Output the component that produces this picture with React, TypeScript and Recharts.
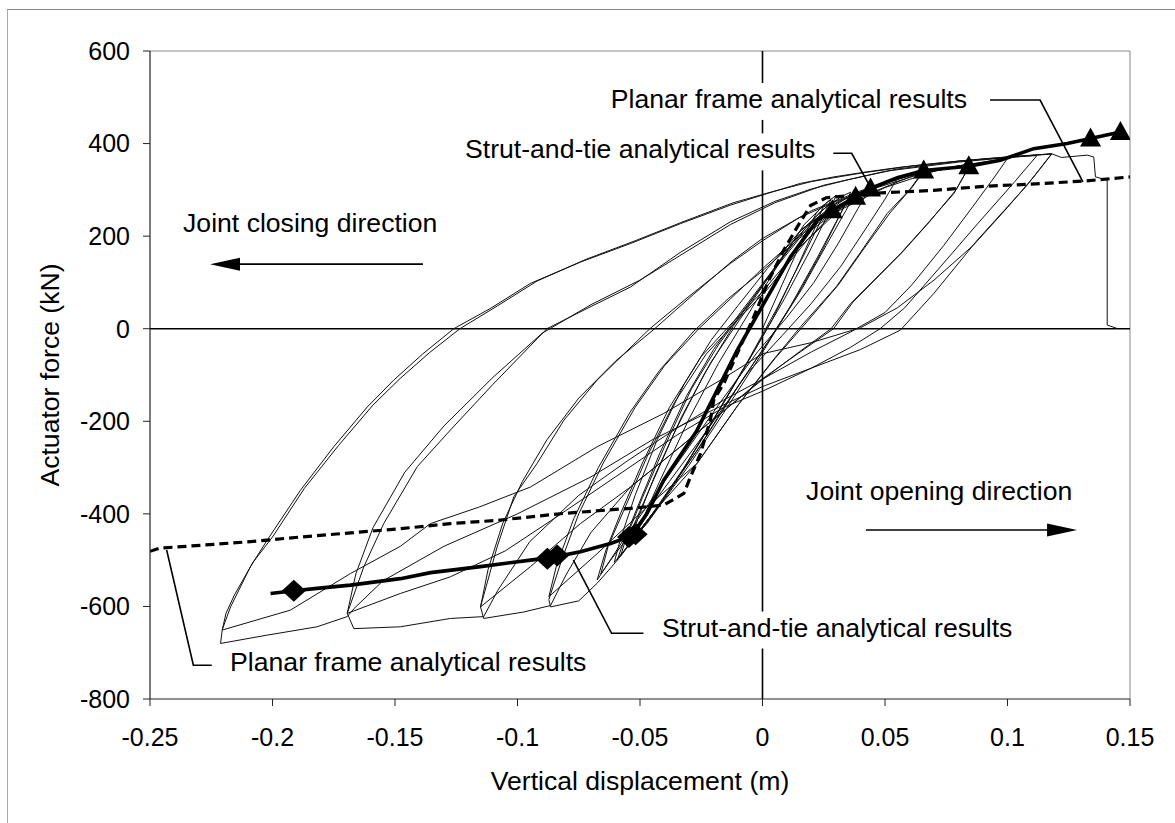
import React from 'react';
import {
  ComposedChart,
  Line,
  Scatter,
  XAxis,
  YAxis,
  ReferenceLine,
  ReferenceDot,
  Label,
} from 'recharts';

type P = [number, number];
const toPts = (a: P[]) => a.map(([x, y]) => ({ x, y }));

const FONT = '"Liberation Sans", Arial, Helvetica, sans-serif';

const xTicks = [-0.25, -0.2, -0.15, -0.1, -0.05, 0, 0.05, 0.1, 0.15];
const yTicks = [-800, -600, -400, -200, 0, 200, 400, 600];

// ---- measured hysteresis (thin lines), displacement (m) vs force (kN) ----
const cycleA1: P[] = [[0,0],[0.008,95],[0.016,190],[0.022,250],[0.025,268],[0.022,225],[0.014,130],[0.004,20],[-0.008,-90],[-0.022,-215],[-0.036,-335],[-0.046,-410],[-0.052,-452],[-0.05,-425],[-0.042,-330],[-0.03,-195],[-0.018,-75],[-0.006,30],[0.006,135],[0.017,225],[0.026,272]];
const cycleA2: P[] = [[0.026,272],[0.03,288],[0.027,250],[0.019,165],[0.009,65],[-0.003,-45],[-0.017,-170],[-0.032,-300],[-0.045,-400],[-0.053,-455],[-0.0555,-470],[-0.053,-430],[-0.046,-345],[-0.036,-225],[-0.024,-100],[-0.012,5],[0,95],[0.012,185],[0.024,255],[0.032,285]];
const cycleA3: P[] = [[0.024,262],[0.028,280],[0.024,235],[0.016,150],[0.006,45],[-0.006,-70],[-0.02,-195],[-0.034,-318],[-0.047,-420],[-0.054,-462],[-0.051,-412],[-0.044,-318],[-0.033,-190],[-0.021,-72],[-0.009,22],[0.003,115],[0.015,208],[0.027,268]];
const cycleB1: P[] = [[0.032,285],[0.036,295],[0.032,250],[0.024,165],[0.014,70],[0.002,-30],[-0.012,-140],[-0.027,-265],[-0.042,-380],[-0.053,-455],[-0.0593,-500],[-0.057,-465],[-0.051,-385],[-0.042,-270],[-0.031,-145],[-0.02,-45],[-0.009,35],[0.004,125],[0.018,220],[0.03,272],[0.038,292]];
const cycleB2: P[] = [[0.038,292],[0.034,255],[0.026,180],[0.016,85],[0.004,-15],[-0.01,-125],[-0.025,-250],[-0.04,-365],[-0.052,-450],[-0.058,-492],[-0.0555,-450],[-0.049,-365],[-0.04,-255],[-0.029,-130],[-0.018,-35],[-0.007,45],[0.006,135],[0.02,228],[0.034,282],[0.042,300]];
const cycleB3: P[] = [[0.036,290],[0.031,240],[0.022,150],[0.011,45],[-0.001,-60],[-0.015,-175],[-0.03,-295],[-0.045,-405],[-0.055,-470],[-0.0605,-505],[-0.058,-455],[-0.052,-360],[-0.043,-240],[-0.032,-120],[-0.021,-25],[-0.01,50],[0.002,130],[0.016,215],[0.03,270],[0.04,296]];
const cycleC1: P[] = [[0.042,300],[0.0441,305],[0.039,260],[0.031,185],[0.021,100],[0.01,25],[-0.002,-50],[-0.016,-150],[-0.03,-255],[-0.044,-360],[-0.056,-450],[-0.064,-515],[-0.0675,-543],[-0.064,-480],[-0.058,-400],[-0.049,-290],[-0.038,-170],[-0.025,-60],[-0.012,15],[0,80],[0.015,175],[0.03,255],[0.045,305],[0.055,325]];
const cycleC2: P[] = [[0.055,325],[0.05,280],[0.042,215],[0.032,135],[0.02,55],[0.008,-15],[-0.006,-95],[-0.022,-215],[-0.038,-330],[-0.052,-430],[-0.062,-500],[-0.066,-530],[-0.063,-470],[-0.056,-385],[-0.047,-275],[-0.036,-160],[-0.023,-55],[-0.01,20],[0.002,85],[0.018,190],[0.035,275],[0.05,318],[0.0658,342]];
const cycleD1: P[] = [[0.0658,342],[0.06,300],[0.0509,249],[0.04,165],[0.03,90],[0.0155,4],[0.004,-70],[-0.01,-165],[-0.0267,-291],[-0.045,-400],[-0.06,-505],[-0.0675,-550],[-0.075,-588],[-0.0865,-601],[-0.0872,-585],[-0.082,-500],[-0.075,-400],[-0.065,-290],[-0.052,-170],[-0.04,-80],[-0.026,0],[-0.012,70],[0,130],[0.015,200],[0.03,255],[0.045,295],[0.0658,340]];
const cycleD2: P[] = [[0.0658,340],[0.061,305],[0.052,250],[0.041,170],[0.031,95],[0.017,8],[0.005,-65],[-0.01,-165],[-0.0267,-291],[-0.0471,-385],[-0.0675,-486],[-0.0872,-579],[-0.084,-510],[-0.077,-410],[-0.067,-300],[-0.054,-180],[-0.042,-90],[-0.028,-5],[-0.014,65],[0,125],[0.015,195],[0.03,252],[0.05,305],[0.07,340],[0.085,356]];
const cycleE1: P[] = [[0.085,356],[0.0781,292],[0.067,225],[0.0563,162],[0.0359,54],[0.028,0],[0.015,-50],[0,-110],[-0.0171,-183],[-0.0335,-255],[-0.0539,-342],[-0.07,-440],[-0.08,-530],[-0.0865,-598],[-0.0974,-612],[-0.1138,-626],[-0.1151,-601],[-0.1083,-471],[-0.1015,-363],[-0.092,-291],[-0.0811,-198],[-0.0675,-111],[-0.046,0],[-0.03,70],[-0.0131,141],[0,190],[0.015,240],[0.03,275],[0.045,302],[0.065,335],[0.085,357]];
const cycleE2: P[] = [[0.085,357],[0.079,300],[0.068,230],[0.057,165],[0.037,58],[0.029,0],[0.016,-48],[0,-108],[-0.0171,-183],[-0.0335,-255],[-0.0539,-342],[-0.0743,-421],[-0.0947,-514],[-0.1151,-601],[-0.112,-520],[-0.106,-420],[-0.098,-330],[-0.088,-240],[-0.075,-150],[-0.06,-70],[-0.044,0],[-0.028,75],[-0.012,148],[0,195],[0.02,255],[0.04,298],[0.06,330],[0.08,352],[0.1,368]];
const cycleF1: P[] = [[0.1,368],[0.095,330],[0.086,265],[0.074,180],[0.061,95],[0.05,35],[0.036,-7],[0.02,-50],[0,-109],[-0.0158,-154],[-0.035,-215],[-0.055,-285],[-0.075,-360],[-0.095,-460],[-0.108,-565],[-0.1138,-622],[-0.1274,-626],[-0.1478,-644],[-0.1668,-648],[-0.1695,-615],[-0.1627,-514],[-0.1546,-421],[-0.1409,-298],[-0.1274,-219],[-0.11,-120],[-0.088,0],[-0.07,48],[-0.0539,90],[-0.0335,165],[-0.0131,231],[0.005,275],[0.02,302],[0.035,322],[0.055,345],[0.08,362],[0.1,370],[0.112,374]];
const cycleF2: P[] = [[0.112,374],[0.103,318],[0.088,228],[0.072,130],[0.058,45],[0.048,0],[0.036,-40],[0.02,-85],[0,-135],[-0.0158,-170],[-0.035,-230],[-0.06,-320],[-0.085,-410],[-0.105,-480],[-0.1274,-536],[-0.1478,-572],[-0.1695,-615],[-0.166,-530],[-0.159,-430],[-0.146,-310],[-0.13,-210],[-0.11,-105],[-0.09,-10],[-0.07,52],[-0.05,105],[-0.03,170],[-0.0131,225],[0.005,272],[0.025,310],[0.05,340],[0.08,360],[0.105,372],[0.118,378]];
const cycleG1: P[] = [[0.118,378],[0.108,310],[0.0876,191],[0.0699,76],[0.0563,-3],[0.04,-45],[0.02,-85],[0,-125],[-0.02,-175],[-0.045,-240],[-0.07,-320],[-0.1,-400],[-0.13,-470],[-0.155,-545],[-0.1668,-605],[-0.1695,-622],[-0.1818,-644],[-0.2022,-662],[-0.2212,-680],[-0.2205,-650],[-0.2171,-601],[-0.209,-514],[-0.2022,-457],[-0.1886,-349],[-0.175,-255],[-0.1613,-169],[-0.1505,-111],[-0.1388,-55],[-0.126,0],[-0.111,44],[-0.0947,98],[-0.0743,144],[-0.0539,184],[-0.0335,227],[-0.0131,267],[0.0019,292],[0.0155,314],[0.0291,328],[0.0427,339],[0.0563,349],[0.0699,357],[0.0836,364],[0.0971,370],[0.1107,375],[0.118,377]];
const cycleG2: P[] = [[0.118,377],[0.111,330],[0.1,262],[0.086,180],[0.07,105],[0.055,45],[0.04,2],[0.02,-30],[0,-54],[-0.0171,-111],[-0.0403,-183],[-0.0675,-255],[-0.0947,-342],[-0.1155,-385],[-0.1355,-421],[-0.1478,-470],[-0.1682,-529],[-0.1927,-608],[-0.2205,-651],[-0.219,-615],[-0.2155,-575],[-0.208,-505],[-0.2,-450],[-0.187,-345],[-0.173,-252],[-0.159,-165],[-0.148,-108],[-0.136,-52],[-0.1235,0],[-0.108,50],[-0.092,103],[-0.072,150],[-0.052,190],[-0.032,232],[-0.012,272],[0.004,296],[0.02,318],[0.04,336],[0.06,351],[0.08,362],[0.1,371],[0.118,378]];
const cycleFail: P[] = [[0.118,378],[0.122,370],[0.1325,375],[0.1352,371],[0.1359,328],[0.1407,321],[0.1407,8],[0.145,0]];

const thinCycles: P[][] = [cycleA1, cycleA2, cycleA3, cycleB1, cycleB2, cycleB3, cycleC1, cycleC2, cycleD1, cycleD2, cycleE1, cycleE2, cycleF1, cycleF2, cycleG1, cycleG2, cycleFail];

// ---- planar frame analytical results (dashed) ----
const planarFrame: P[] = [[-0.25,-481],[-0.2459,-474],[-0.2294,-468],[-0.209,-460],[-0.1886,-450],[-0.168,-441],[-0.1478,-432],[-0.1274,-421],[-0.1083,-414],[-0.0811,-399],[-0.0539,-388],[-0.0403,-381],[-0.0321,-356],[-0.0294,-320],[-0.0253,-270],[-0.0212,-195],[-0.0199,-154],[-0.0158,-118],[-0.01,-50],[-0.004,20],[0.0026,105],[0.0087,170],[0.0142,220],[0.0196,266],[0.026,283],[0.0468,293],[0.0699,299],[0.0917,308],[0.108,312],[0.1312,319],[0.15,328]];

// ---- strut-and-tie analytical results (thick) ----
const strutTie: P[] = [[-0.2008,-572],[-0.1913,-566],[-0.1818,-561],[-0.1682,-554],[-0.1478,-540],[-0.1355,-527],[-0.1151,-514],[-0.0947,-500],[-0.0858,-494],[-0.0743,-482],[-0.062,-464],[-0.0532,-447],[-0.0471,-399],[-0.0403,-327],[-0.027,-222],[-0.0103,-46],[0.0005,54],[0.0114,155],[0.0223,234],[0.0285,256],[0.038,285],[0.0441,303],[0.055,326],[0.0658,342],[0.0842,351],[0.0971,364],[0.1107,389],[0.1244,400],[0.1339,411],[0.1461,425]];
const strutDiamonds: P[] = [[-0.1913,-566],[-0.0878,-497],[-0.0838,-490],[-0.0545,-450],[-0.0518,-444]];
const strutTriangles: P[] = [[0.0285,256],[0.038,285],[0.0441,303],[0.0658,342],[0.0842,351],[0.1339,411],[0.1461,425]];

// ---- annotations (data coordinates) ----
const leaderTopPlanar: P[] = [[0.0929,494],[0.1133,494],[0.1308,317]];
const leaderTopStrut: P[] = [[0.0289,379],[0.0364,379],[0.0432,314]];
const leaderLowStrut: P[] = [[-0.0772,-500],[-0.0616,-658],[-0.0486,-658]];
const leaderLowPlanar: P[] = [[-0.2432,-478],[-0.2323,-727],[-0.2248,-727]];

const notes = [
  { text: 'Joint closing direction', x: -0.2365, y: 209, anchor: 'start', box: false, w: 256 },
  { text: 'Planar frame analytical results', x: 0.0835, y: 477, anchor: 'end', box: true, w: 356 },
  { text: 'Strut-and-tie analytical results', x: -0.1214, y: 368, anchor: 'start', box: true, w: 352 },
  { text: 'Joint opening direction', x: 0.0178, y: -370, anchor: 'start', box: false, w: 268 },
  { text: 'Strut-and-tie analytical results', x: -0.041, y: -665, anchor: 'start', box: true, w: 352 },
  { text: 'Planar frame analytical results', x: -0.2173, y: -739.5, anchor: 'start', box: false, w: 356 },
];

const arrowClosing = { tail: -0.1386, tip: -0.2255, y: 139.5 };
const arrowOpening = { tail: 0.0422, tip: 0.1284, y: -435 };

const makeNote = (n: typeof notes[number]) => (props: any) => {
  const { cx, cy } = props;
  const left = n.anchor === 'start' ? cx - 4 : cx - n.w - 4;
  return (
    <g>
      {n.box && <rect x={left} y={cy - 25} width={n.w + 8} height={37} fill="#fff" />}
      <text x={cx} y={cy} textAnchor={n.anchor} fontSize={26.6} fontFamily={FONT} fill="#000">
        {n.text}
      </text>
    </g>
  );
};

const arrowHead = (dir: number) => (props: any) => {
  const { cx, cy } = props;
  return (
    <polygon
      points={`${cx},${cy} ${cx - dir * 30},${cy - 6.5} ${cx - dir * 30},${cy + 6.5}`}
      fill="#000"
    />
  );
};

const TriangleShape = (props: any) => {
  const { cx, cy } = props;
  return <polygon points={`${cx},${cy - 11} ${cx - 10.5},${cy + 8} ${cx + 10.5},${cy + 8}`} fill="#000" />;
};
const DiamondShape = (props: any) => {
  const { cx, cy } = props;
  return <polygon points={`${cx},${cy - 11} ${cx + 12},${cy} ${cx},${cy + 11} ${cx - 12},${cy}`} fill="#000" />;
};

const tickStyle = { fontSize: 25, fill: '#000', fontFamily: FONT };

export default function App() {
  return (
    <div style={{ position: 'absolute', left: 0, top: 0, width: 1175, height: 823, background: '#fff' }}>
      <div
        style={{
          position: 'absolute',
          left: 7,
          top: 9,
          width: 1168,
          height: 814,
          borderTop: '1px solid #888',
          borderLeft: '1px solid #aaa',
          boxSizing: 'border-box',
        }}
      />
      <div style={{ position: 'absolute', left: 0, top: 0 }}>
        <ComposedChart width={1175} height={823} margin={{ top: 51, right: 45, bottom: 24, left: 0 }}>
          <XAxis
            type="number"
            dataKey="x"
            domain={[-0.25, 0.15]}
            allowDataOverflow
            ticks={xTicks}
            interval={0}
            tickSize={7}
            tickMargin={22}
            height={100}
            axisLine={{ stroke: '#222', strokeWidth: 1.2 }}
            tickLine={{ stroke: '#222' }}
            tick={tickStyle}
          >
            <Label
              value="Vertical displacement (m)"
              position="insideBottom"
              offset={9}
              style={{ fontSize: 26.6, fill: '#000', fontFamily: FONT }}
            />
          </XAxis>
          <YAxis
            type="number"
            dataKey="y"
            domain={[-800, 600]}
            allowDataOverflow
            ticks={yTicks}
            interval={0}
            width={150}
            tickSize={7}
            tickMargin={13}
            axisLine={{ stroke: '#222', strokeWidth: 1.2 }}
            tickLine={{ stroke: '#222' }}
            tick={tickStyle}
          >
            <Label
              value="Actuator force (kN)"
              angle={-90}
              position="insideLeft"
              offset={50}
              style={{ fontSize: 26.6, fill: '#000', fontFamily: FONT, textAnchor: 'middle' }}
            />
          </YAxis>

          <ReferenceLine y={600} stroke="#888" strokeWidth={1} />
          <ReferenceLine x={0.15} stroke="#888" strokeWidth={1} />
          <ReferenceLine x={0} stroke="#000" strokeWidth={1.6} />
          <ReferenceLine y={0} stroke="#000" strokeWidth={1.6} />

          {thinCycles.map((c, i) => (
            <Line
              key={`c${i}`}
              data={toPts(c)}
              dataKey="y"
              type="linear"
              stroke="#111"
              strokeWidth={1}
              dot={false}
              activeDot={false}
              isAnimationActive={false}
            />
          ))}

          <Line
            data={toPts(planarFrame)}
            dataKey="y"
            type="linear"
            stroke="#000"
            strokeWidth={3.2}
            strokeDasharray="9 5"
            dot={false}
            activeDot={false}
            isAnimationActive={false}
          />
          <Line
            data={toPts(strutTie)}
            dataKey="y"
            type="linear"
            stroke="#000"
            strokeWidth={3.6}
            dot={false}
            activeDot={false}
            isAnimationActive={false}
          />
          <Scatter data={toPts(strutTriangles)} shape={TriangleShape} isAnimationActive={false} />
          <Scatter data={toPts(strutDiamonds)} shape={DiamondShape} isAnimationActive={false} />

          {[leaderTopPlanar, leaderTopStrut, leaderLowStrut, leaderLowPlanar].map((l, i) => (
            <Line
              key={`l${i}`}
              data={toPts(l)}
              dataKey="y"
              type="linear"
              stroke="#000"
              strokeWidth={1.6}
              dot={false}
              activeDot={false}
              isAnimationActive={false}
            />
          ))}

          <ReferenceLine
            segment={[{ x: arrowClosing.tail, y: arrowClosing.y }, { x: arrowClosing.tip + 0.01, y: arrowClosing.y }]}
            stroke="#000"
            strokeWidth={1.6}
          />
          <ReferenceDot x={arrowClosing.tip} y={arrowClosing.y} r={0} shape={arrowHead(-1)} />
          <ReferenceLine
            segment={[{ x: arrowOpening.tail, y: arrowOpening.y }, { x: arrowOpening.tip - 0.01, y: arrowOpening.y }]}
            stroke="#000"
            strokeWidth={1.6}
          />
          <ReferenceDot x={arrowOpening.tip} y={arrowOpening.y} r={0} shape={arrowHead(1)} />

          {notes.map((n, i) => (
            <ReferenceDot key={`n${i}`} x={n.x} y={n.y} r={0} shape={makeNote(n)} />
          ))}
        </ComposedChart>
      </div>
    </div>
  );
}
